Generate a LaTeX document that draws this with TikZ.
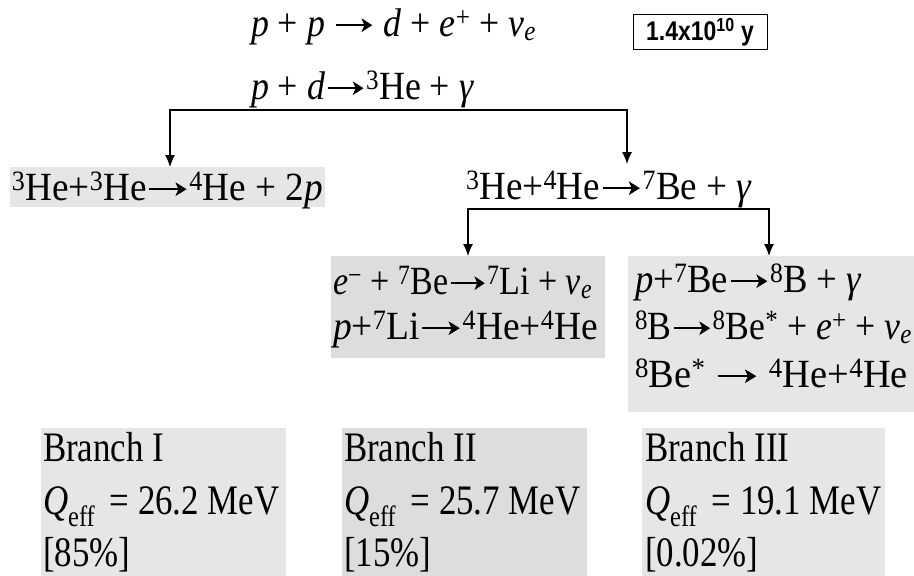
\documentclass[tikz,border=0pt]{standalone}
\usepackage{fontspec}
\usepackage{graphicx}
\setmainfont{Liberation Serif}
\newfontfamily\arialf{Liberation Sans}
\usetikzlibrary{arrows.meta}
\definecolor{gA}{HTML}{E6E6E6}
\definecolor{gB}{HTML}{DDDDDD}
\newcommand{\su}[1]{\textsuperscript{#1}}
\newcommand{\sbs}[1]{\textsubscript{#1}}
\newcommand{\ra}{\kern0.05em\tikz[baseline=0pt,x=1em,y=1em]{\path (0,0) rectangle (1,0.5);
  \draw[line width=0.045em, line cap=butt, -{Stealth[length=0.3em,width=0.34em,inset=0.08em]}] (0,0.27) -- (1,0.27);}\kern0.05em}
\newcommand{\fw}[2]{\resizebox{#1}{\height}{#2}}
\newcommand{\nar}[1]{\scalebox{0.83}[1]{#1}}
\begin{document}
\begin{tikzpicture}[x=1pt,y=-1pt,
  txt/.style={anchor=base west, inner sep=0pt, outer sep=0pt},
  eqA/.style={txt, font=\fontsize{40}{44}\selectfont},
  eqB/.style={txt, font=\fontsize{40}{44}\selectfont},
  brt/.style={txt, font=\fontsize{42}{46}\selectfont},
  gbox/.style={draw=none, inner sep=0pt, outer sep=0pt, anchor=north west},
  tbox/.style={draw, line width=1pt, inner sep=0pt, minimum width=134pt, minimum height=35pt,
    font=\arialf\bfseries\fontsize{27}{29}\selectfont},
  conn/.style={line width=1.2pt, {Latex[length=12pt,width=10pt]}-{Latex[length=12pt,width=10pt]}}
]
\useasboundingbox (0,0) rectangle (914,576);

% top lines
\node[eqA] (l1) at (251,36) {\fw{285pt}{\textit{p} + \textit{p} \ra{} \textit{d} + \textit{e}\su{+} + \textit{ν}\sbs{\textit{e}}}};
\node[tbox] (tb) at (700,32) {\scalebox{0.85}[1]{1.4x10\su{10} y}};
\node[eqA] (l2) at (251,99) {\fw{223pt}{\textit{p} + \textit{d}\ra\su{3}He + \textit{γ}}};

% branch I reaction
\node[gbox, fill=gA, minimum width=315pt, minimum height=40pt] (b1) at (10,167) {};
\node[eqB] (r1) at (12,200) {\fw{311pt}{\su{3}He+\su{3}He\ra\su{4}He + 2\textit{p}}};

% 3He + 4He
\node[eqB] (r2) at (466,199) {\fw{286pt}{\su{3}He+\su{4}He\ra\su{7}Be + \textit{γ}}};

% branch II reactions
\node[gbox, fill=gB, minimum width=274pt, minimum height=102pt] (b2) at (331,256) {};
\node[eqB] (r3a) at (333,294) {\fw{259pt}{\textit{e}\su{−} + \su{7}Be\ra\su{7}Li + \textit{ν}\sbs{\textit{e}}}};
\node[eqB] (r3b) at (333,339) {\fw{265pt}{\textit{p}+\su{7}Li\ra\su{4}He+\su{4}He}};

% branch III reactions
\node[gbox, fill=gA, minimum width=286pt, minimum height=156pt] (b3) at (628,256) {};
\node[eqB] (r4a) at (635,292) {\fw{227pt}{\textit{p}+\su{7}Be\ra\su{8}B + \textit{γ}}};
\node[eqB] (r4b) at (635,339) {\fw{277pt}{\su{8}B\ra\su{8}Be\su{*} + \textit{e}\su{+} + \textit{ν}\sbs{\textit{e}}}};
\node[eqB] (r4c) at (635,387) {\fw{273pt}{\su{8}Be\su{*} \ra{} \su{4}He+\su{4}He}};

% summary boxes
\node[gbox, fill=gA, minimum width=245pt, minimum height=148pt] (q1) at (41,428) {};
\node[gbox, fill=gB, minimum width=245pt, minimum height=148pt] (q2) at (342,428) {};
\node[gbox, fill=gA, minimum width=243pt, minimum height=148pt] (q3) at (642,428) {};
\node[brt] (q1a) at (43,461) {\nar{Branch I}};
\node[brt] (q1b) at (43,514) {\nar{\textit{Q}\textsubscript{eff}\, = 26.2 MeV}};
\node[brt] (q1c) at (43,566) {\nar{[85\%]}};
\node[brt] (q2a) at (344,461) {\nar{Branch II}};
\node[brt] (q2b) at (344,514) {\nar{\textit{Q}\textsubscript{eff}\, = 25.7 MeV}};
\node[brt] (q2c) at (344,566) {\nar{[15\%]}};
\node[brt] (q3a) at (645,461) {\nar{Branch III}};
\node[brt] (q3b) at (645,514) {\nar{\textit{Q}\textsubscript{eff}\, = 19.1 MeV}};
\node[brt] (q3c) at (645,566) {\nar{[0.02\%]}};

% connectors
\coordinate (j1) at (170,110);
\coordinate (j2) at (627,110);
\coordinate (t2) at (627,164);
\draw[conn] (j1 |- b1.north) -- (j1) -- (j2) -- (t2);
\coordinate (k1) at (468,209);
\coordinate (k2) at (769,209);
\draw[conn] (k1 |- b2.north) -- (k1) -- (k2) -- (k2 |- b3.north);
\end{tikzpicture}
\end{document}
